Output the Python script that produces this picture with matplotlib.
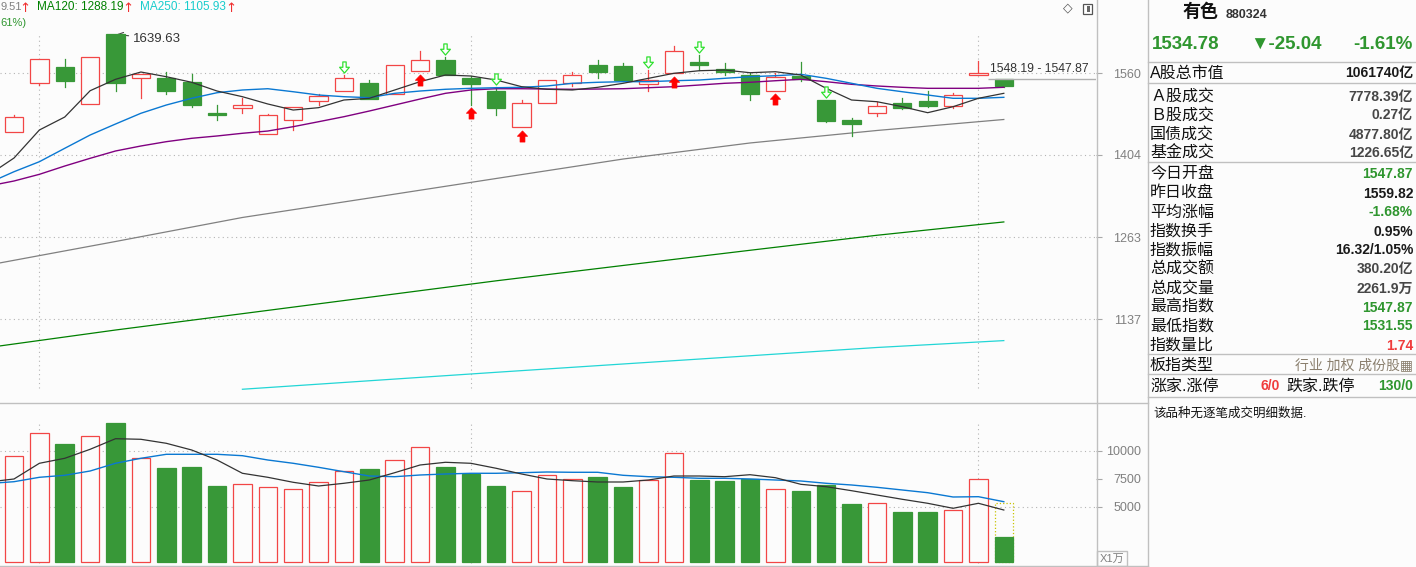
import numpy as np
import matplotlib
matplotlib.use('Agg')
import matplotlib.pyplot as plt
from matplotlib.path import Path
from matplotlib.patches import Rectangle
from matplotlib.transforms import offset_copy
from matplotlib.ticker import FixedLocator, NullLocator, NullFormatter

plt.rcParams['font.family'] = ['Liberation Sans', 'DejaVu Sans', 'Noto Sans CJK SC']

# daily candles, oldest first (last one is today)
opens = [1445.5, 1539.5, 1572.1, 1498.5, 1639.6, 1549.4, 1550.6, 1542.1, 1482.4, 1492.0,
         1441.8, 1468.0, 1504.3, 1523.7, 1540.1, 1517.9, 1563.4, 1586.3, 1549.4, 1524.3,
         1454.8, 1500.4, 1539.5, 1576.1, 1574.1, 1538.7, 1559.4, 1582.2, 1568.0, 1556.0,
         1524.9, 1554.6, 1506.8, 1468.6, 1481.3, 1501.0, 1504.9, 1495.8, 1555.4, 1547.87]
highs = [1478.0, 1587.7, 1588.3, 1591.8, 1639.63, 1558.0, 1561.4, 1558.0, 1497.1, 1510.1,
         1479.9, 1492.7, 1518.5, 1556.0, 1546.0, 1575.5, 1604.7, 1593.0, 1554.6, 1531.6,
         1506.8, 1545.4, 1561.4, 1586.3, 1580.2, 1566.0, 1615.7, 1596.5, 1579.6, 1560.6,
         1559.4, 1582.2, 1506.8, 1471.7, 1503.5, 1510.7, 1524.3, 1519.8, 1584.2, 1547.87]
lows = [1445.5, 1535.5, 1532.8, 1498.5, 1524.9, 1511.3, 1518.5, 1493.3, 1468.6, 1481.3,
        1441.8, 1449.8, 1497.7, 1523.7, 1509.3, 1517.9, 1563.4, 1556.6, 1497.7, 1478.6,
        1454.8, 1500.4, 1534.7, 1550.6, 1544.0, 1524.9, 1559.4, 1566.0, 1556.0, 1506.8,
        1524.9, 1544.6, 1465.3, 1438.7, 1476.7, 1490.0, 1493.9, 1490.8, 1555.4, 1531.55]
closes = [1473.7, 1587.7, 1544.6, 1591.8, 1539.5, 1558.0, 1524.3, 1497.1, 1478.6, 1496.6,
          1477.4, 1492.7, 1514.0, 1549.4, 1509.3, 1575.5, 1585.7, 1556.6, 1538.7, 1492.0,
          1500.4, 1545.4, 1555.4, 1562.6, 1546.6, 1545.4, 1604.1, 1576.7, 1562.6, 1519.0,
          1551.4, 1547.4, 1467.2, 1461.6, 1494.6, 1491.4, 1495.8, 1515.9, 1559.82, 1534.78]
# volume in units of 10k
volumes = [9484, 11537, 10582, 11270, 12457, 9305, 8439, 8528, 6831, 6983,
           6715, 6537, 7162, 8144, 8350, 9126, 10287, 8528, 7930, 6831,
           6358, 7787, 7430, 7635, 6742, 7367, 9778, 7367, 7278, 7483,
           6537, 6385, 6921, 5224, 5287, 4510, 4510, 4661, 7430, 2261.9]
today_vol_estimate = 5287

# moving averages, index -1 .. 39
ma_idx = list(range(-1, 40))
ma5 = [1368.3, 1398.5, 1449.8, 1474.2, 1524.9, 1547.4, 1562.0, 1552.6, 1541.5, 1524.3, 1513.2,
       1499.1, 1487.5, 1492.0, 1506.8, 1510.1, 1526.3, 1542.7, 1556.0, 1554.0, 1546.0,
       1532.8, 1527.7, 1526.3, 1531.6, 1539.5, 1549.4, 1559.4, 1564.6, 1566.0, 1560.6,
       1562.6, 1556.0, 1529.6, 1506.8, 1503.5, 1493.9, 1482.4, 1493.9, 1510.1, 1519.8]
ma10 = [1354.3, 1374.1, 1391.9, 1416.1, 1440.5, 1461.0, 1481.3, 1497.1, 1510.1, 1521.0, 1526.3,
        1528.8, 1522.9, 1516.5, 1513.2, 1511.3, 1519.8, 1524.3, 1527.7, 1529.6, 1530.8,
        1531.6, 1534.2, 1539.5, 1541.5, 1542.7, 1542.7, 1544.6, 1546.0, 1549.4, 1552.6,
        1554.6, 1557.4, 1549.4, 1539.5, 1529.6, 1522.9, 1516.5, 1510.1, 1510.1, 1512.0]
ma20 = [1349.1, 1357.8, 1369.5, 1384.2, 1398.0, 1411.2, 1420.3, 1428.2, 1434.4, 1438.7, 1443.7,
        1447.9, 1456.0, 1465.3, 1474.8, 1485.6, 1497.1, 1508.7, 1519.8, 1526.3, 1528.8,
        1528.8, 1528.2, 1527.7, 1528.2, 1528.8, 1530.8, 1532.8, 1536.1, 1539.5, 1541.5,
        1544.6, 1547.4, 1542.7, 1537.5, 1534.2, 1531.6, 1529.6, 1529.6, 1529.6, 1531.6]
long_idx = [-1, 4, 9, 14, 19, 24, 29, 34, 39]
ma60 = [1218.8, 1256.2, 1295.6, 1328.4, 1362.2, 1396.7, 1425.8, 1448.9, 1469.51]
ma120 = [1096.2, 1121.1, 1144.9, 1169.3, 1194.3, 1218.1, 1242.1, 1266.3, 1288.19]
ma250_idx = [9, 14, 19, 24, 29, 34, 39]
ma250 = [1038.9, 1050.3, 1061.8, 1073.2, 1084.6, 1096.2, 1105.93]

vol_ma5 = [7189, 7457, 8859, 9305, 10109, 11055, 11002, 10645, 10046, 9153, 7966,
           7608, 7162, 6831, 7073, 7367, 8019, 8707, 8948, 8859, 8412,
           7903, 7457, 7305, 7189, 7189, 7367, 7724, 7724, 7662, 7840,
           7573, 6983, 6769, 6412, 6028, 5644, 5287, 4840, 5287, 4688]
vol_ma10 = [7055, 7215, 7608, 7787, 8171, 8859, 9305, 9662, 9662, 9662, 9537,
            9153, 8859, 8501, 8108, 7724, 7662, 7814, 7903, 7966, 7966,
            8019, 8082, 8055, 8055, 7787, 7662, 7608, 7519, 7519, 7457,
            7367, 7278, 7073, 6921, 6715, 6474, 6233, 5849, 5876, 5429]

sell_idx = [13, 17, 19, 25, 27, 32]
buy_idx = [16, 18, 20, 26, 30]
month_idx = [1, 18, 38]
price_ticks = [1560, 1404, 1263, 1137]
vol_ticks = [10000, 7500, 5000]
cursor_label = '1548.19 - 1547.87'
cursor_price = 1548.19

# quote panel
name, code = '有色', '880324'
last, change, change_pct = '1534.78', '▼-25.04', '-1.61%'
info_labels = ['A股总市值', 'Ａ股成交', 'Ｂ股成交', '国债成交', '基金成交', '今日开盘', '昨日收盘',
               '平均涨幅', '指数换手', '指数振幅', '总成交额', '总成交量', '最高指数', '最低指数', '指数量比']
info_values = ['1061740亿', '7778.39亿', '0.27亿', '4877.80亿', '1226.65亿', '1547.87', '1559.82',
               '-1.68%', '0.95%', '16.32/1.05%', '380.20亿', '2261.9万', '1547.87', '1531.55', '1.74']
info_kind = ['k', 'g', 'g', 'g', 'g', 'up', 'k', 'up', 'k', 'k', 'g', 'g', 'up', 'up', 'dn']

W, H = 1416, 567
BG = '#fcfcfc'
RED = '#f24646'
GREEN = '#389838'
TGREEN = '#2f962f'
TRED = '#f03c3c'
GRID = '#b4b4b4'
FRAME = '#c0c0c0'
DOT = (0, (1, 3))

fig = plt.figure(figsize=(W / 100, H / 100), dpi=100, facecolor=BG)


def box(x0, y0, x1, y1):
    return [x0 / W, 1 - y1 / H, (x1 - x0) / W, (y1 - y0) / H]


ax = fig.add_axes(box(0, 0, 1096, 403), facecolor=BG)
axv = fig.add_axes(box(0, 403, 1096, 566), facecolor=BG)
ov = fig.add_axes([0, 0, 1, 1], zorder=10)
ov.set_xlim(0, W)
ov.set_ylim(H, 0)
ov.axis('off')

n = len(opens)
xlim = (-0.5516, 42.632)

# ---- price panel
ax.set_yscale('log')
for p in price_ticks:
    ax.axhline(p, color=GRID, lw=0.8, ls=DOT, zorder=1)
for i in month_idx:
    ax.axvline(i, ymin=0.037, ymax=0.918, color=GRID, lw=0.8, ls=DOT, zorder=1)

ax.plot(long_idx, ma60, color='#808080', lw=0.9, zorder=2)
ax.plot(long_idx, ma120, color='#008000', lw=0.9, zorder=2)
ax.plot(ma250_idx, ma250, color='#22d6d6', lw=0.9, zorder=2)

for i in range(n):
    o, h, l, c = opens[i], highs[i], lows[i], closes[i]
    up = c >= o
    col = RED if up else GREEN
    lo, hi = min(o, c), max(o, c)
    ax.plot([i, i], [l, lo], color=col, lw=0.9, zorder=3)
    ax.plot([i, i], [hi, h], color=col, lw=0.9, zorder=3)
    ax.bar(i, hi - lo, bottom=lo, width=0.72, facecolor=BG if up else GREEN,
           edgecolor=col, lw=0.9, zorder=4)

ax.plot(ma_idx, ma20, color='#800080', lw=1.0, zorder=5)
ax.plot(ma_idx, ma10, color='#0a78d2', lw=1.0, zorder=5)
ax.plot(ma_idx, ma5, color='#333333', lw=0.9, zorder=5)

down_arrow = Path([(-0.15, 0.5), (0.15, 0.5), (0.15, 0.02), (0.44, 0.02), (0, -0.5),
                   (-0.44, 0.02), (-0.15, 0.02), (-0.15, 0.5)], closed=True)
up_arrow = Path([(0, 0.5), (0.46, 0.02), (0.22, 0.02), (0.22, -0.5), (-0.22, -0.5),
                 (-0.22, 0.02), (-0.46, 0.02), (0, 0.5)], closed=True)
tr_above = offset_copy(ax.transData, fig=fig, y=8, units='dots')
tr_below = offset_copy(ax.transData, fig=fig, y=-8.5, units='dots')
ax.plot(sell_idx, [highs[i] for i in sell_idx], ls='none', marker=down_arrow, ms=8,
        mfc='white', mec='#30e030', mew=0.9, transform=tr_above, zorder=6)
ax.plot(buy_idx, [lows[i] for i in buy_idx], ls='none', marker=up_arrow, ms=8,
        mfc='#ff0000', mec='#ff0000', mew=0.5, transform=tr_below, zorder=6)

top_i = int(np.argmax(highs))
ax.annotate(f'{highs[top_i]:.2f}', xy=(top_i + 0.05, highs[top_i]), xytext=(16, -5),
            textcoords='offset pixels', va='center', fontsize=9.5, color='#333333',
            arrowprops=dict(arrowstyle='->', color='#444444', lw=0.8, shrinkA=1, shrinkB=0))
ax.hlines(cursor_price, 38.38, xlim[1], color='#b0b0b0', lw=1.0, zorder=5)

ax.set_xlim(*xlim)
ax.set_ylim(1020.7, 1713.5)
ax.set_xticks([])
ax.yaxis.set_major_locator(FixedLocator(price_ticks))
ax.yaxis.set_minor_locator(NullLocator())
ax.yaxis.set_minor_formatter(NullFormatter())
ax.set_yticklabels([str(p) for p in price_ticks])
ax.tick_params(axis='y', left=False, right=True, labelleft=False, labelright=True,
               length=4, width=0.8, color='#a8a8a8', labelcolor='#808080',
               labelsize=9, pad=28.5)
for t in ax.get_yticklabels():
    t.set_ha('right')
for s in ax.spines.values():
    s.set_visible(False)

# ---- volume panel
for v in (10000, 5000):
    axv.axhline(v, color=GRID, lw=0.8, ls=DOT, zorder=1)
for i in month_idx:
    axv.axvline(i, ymin=0.02, ymax=0.871, color=GRID, lw=0.8, ls=DOT, zorder=1)
for i in range(n):
    up = closes[i] >= opens[i]
    axv.bar(i, volumes[i], width=0.73, facecolor=BG if up else GREEN,
            edgecolor=RED if up else GREEN, lw=0.9, zorder=3)
axv.bar(n - 1, today_vol_estimate, width=0.73, fill=False, edgecolor='#c8c400',
        ls=':', lw=0.9, zorder=2)
axv.plot(ma_idx, vol_ma10, color='#0a78d2', lw=1.0, zorder=5)
axv.plot(ma_idx, vol_ma5, color='#333333', lw=0.9, zorder=5)
axv.set_xlim(*xlim)
axv.set_ylim(-313, 14243)
axv.set_xticks([])
axv.set_yticks(vol_ticks)
axv.set_yticklabels([str(v) for v in vol_ticks])
axv.tick_params(axis='y', left=False, right=True, labelleft=False, labelright=True,
                length=4, width=0.8, color='#a8a8a8', labelcolor='#808080',
                labelsize=9, pad=28.8)
for t in axv.get_yticklabels():
    t.set_ha('right')
for s in axv.spines.values():
    s.set_visible(False)

# ---- frame lines and header
def hline(y, x0, x1):
    ov.plot([x0, x1], [y, y], color=FRAME, lw=1.0)


def vline(x, y0, y1):
    ov.plot([x, x], [y0, y1], color=FRAME, lw=1.0)


vline(1096.5, 0, H)
vline(1147.5, 0, H)
hline(403, 0, 1147.5)
hline(566, 0, 1147.5)
for y in (62, 83, 162, 354, 374, 397):
    hline(y, 1147.5, W)
ov.add_patch(Rectangle((1097, 551), 30, 15, fill=False, ec=FRAME, lw=1.0))
ov.text(1112, 559, 'X1万', ha='center', va='center', fontsize=8, color='#808080')

ov.text(1068, 8, '◇', ha='center', va='center', fontsize=9, color='#555555',
        family=['DejaVu Sans'])
ov.add_patch(Rectangle((1082.5, 3.5), 9, 10, fc='white', ec='#555555', lw=0.9))
ov.add_patch(Rectangle((1087, 5.5), 3.2, 6, fc='#666666', ec='none'))

# header: the MA60 entry and the change line are scrolled off the left edge,
# only their tails show
ma60_txt = f'{ma60[-1]:.2f}'
ov.text(0.5, 7, ma60_txt[-4:], ha='left', va='center', fontsize=8, color='#808080')
ov.text(37, 7, f'MA120: {ma120[-1]:.2f}', ha='left', va='center', fontsize=8.5, color='#008000')
ov.text(140, 7, f'MA250: {ma250[-1]:.2f}', ha='left', va='center', fontsize=8.5, color='#18cccc')
for x in (25, 128, 231):
    ov.text(x, 8, '↑', ha='center', va='center', fontsize=9.5, color='#f03030',
            family=['DejaVu Sans'])
ov.text(0.5, 23, f'({change_pct})'[-4:], ha='left', va='center', fontsize=8, color=TGREEN)
ov.text(990, 69, cursor_label, ha='left', va='center', fontsize=8.8, color='#333333')

# ---- quote panel
ov.text(1183, 17, name, fontsize=13, fontweight='bold', color='#111111', va='baseline')
ov.text(1226, 18.5, code, fontsize=9, fontweight='bold', color='#333333', va='baseline')
ov.text(1152, 49, last, fontsize=13.5, fontweight='bold', color=TGREEN, va='baseline')
ov.text(1250, 49, change, fontsize=13.5, fontweight='bold', color=TGREEN, va='baseline')
ov.text(1413, 49, change_pct, fontsize=13.5, fontweight='bold', color=TGREEN, va='baseline',
        ha='right')

row_y = [72, 95, 114, 133, 152, 173, 192, 211, 230, 249, 268, 287, 306, 325, 344]
kind_color = {'k': '#1a1a1a', 'g': '#474747', 'up': TGREEN, 'dn': TRED}
for lab, val, kind, y in zip(info_labels, info_values, info_kind, row_y):
    ov.text(1150, y + 5.5, lab, fontsize=11.5, color='#111111', va='baseline')
    ov.text(1413, y + 5.5, val, fontsize=10, fontweight='bold', color=kind_color[kind],
            va='baseline', ha='right')

ov.text(1150, 364 + 5.5, '板指类型', fontsize=11.5, color='#111111', va='baseline')
ov.text(1413, 364 + 5.5, '行业 加权 成份股▦', fontsize=10, color='#8a7f6e', va='baseline',
        ha='right')
ov.text(1150, 385 + 5.5, '涨家.涨停', fontsize=11.5, color='#111111', va='baseline')
ov.text(1280, 385 + 5.5, '6/0', fontsize=10, fontweight='bold', color=TRED, va='baseline',
        ha='right')
ov.text(1286, 385 + 5.5, '跌家.跌停', fontsize=11.5, color='#111111', va='baseline')
ov.text(1413, 385 + 5.5, '130/0', fontsize=10, fontweight='bold', color=TGREEN, va='baseline',
        ha='right')
ov.text(1153, 412 + 4.5, '该品种无逐笔成交明细数据.', fontsize=9, color='#111111', va='baseline')

fig.savefig('out.png', dpi=100, facecolor=BG)
